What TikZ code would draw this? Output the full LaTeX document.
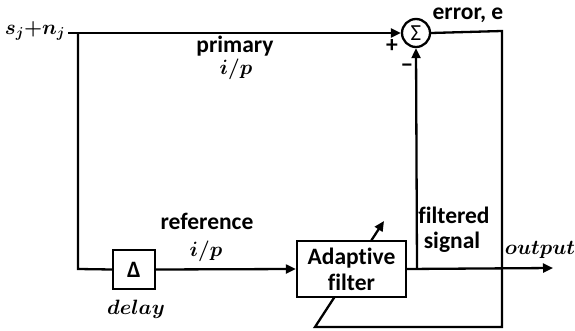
\documentclass[tikz,border=0pt]{standalone}
\usepackage{fontspec}
\setmainfont{Carlito}[Ligatures=NoCommon]
\usetikzlibrary{arrows.meta}
\begin{document}
\begin{tikzpicture}[x=1pt,y=-1pt,
  wire/.style={line width=2.3pt},
  arr/.style={wire,-{Triangle[length=10pt,width=9pt]}},
  blk/.style={draw,fill=white,line width=2.3pt,minimum width=#1,inner sep=0pt,align=center,font=\fontsize{23.5}{26}\selectfont\bfseries},
  lbl/.style={font=\fontsize{23.5}{26}\selectfont\bfseries,align=center,inner sep=0pt},
  mth/.style={font=\fontsize{21}{22}\selectfont\boldmath,inner sep=0pt}]
\useasboundingbox (0,0) rectangle (575,331);
% nodes
\node[mth,font=\fontsize{22}{22}\selectfont\boldmath] (in) at (35,31) {$s_j{+}n_j$};
\coordinate (J1) at (78,33);
\coordinate (J2) at (78,269);
\node[draw,circle,line width=2.3pt,minimum size=28pt,inner sep=0pt,font=\fontsize{23}{24}\selectfont] (S) at (416,33) {Σ};
\coordinate (F) at (417,268);
\coordinate (O) at (553,268);
\coordinate (E1) at (502,31);
\coordinate (E2) at (502,327);
\coordinate (E3) at (315,327);
\coordinate (E4) at (384,221);
% feedback path (behind the filter box)
\draw[arr,line join=miter] (S.east) -- (E1) -- (E2) -- (E3) -- (E4);
\node[blk=42pt,minimum height=39pt] (D) at (134,269.5) {Δ};
\node[blk=109pt,minimum height=56pt] (A) at (351.5,269) {Adaptive\\filter};
% connectors
\draw[arr] (in.east) ++(3,2) -- (S.west);
\draw[wire] (J1) -- (J2) -- (D.west);
\draw[arr] (D.east) -- (A.west);
\draw[arr] (A.east) -- (O);
\draw[arr] (F) -- (S.south);
% labels
\node[lbl] (t1) at (235,46) {primary};
\node[mth] (t2) at (236,69) {$i/p$};
\node[lbl] (t3) at (207,221) {reference};
\node[mth] (t4) at (206,251) {$i/p$};
\node[mth,font=\fontsize{22}{22}\selectfont\boldmath] (t5) at (136,309) {$delay$};
\node[lbl] (t6) at (454,215) {filtered};
\node[lbl] (t7) at (452,242) {signal};
\node[mth] (t8) at (540,250) {$output$};
\node[lbl] (t9) at (468,15) {error, e};
\node[lbl] (t10) at (392,46) {+};
\node[lbl] (t11) at (407,68) {−};
\end{tikzpicture}
\end{document}
